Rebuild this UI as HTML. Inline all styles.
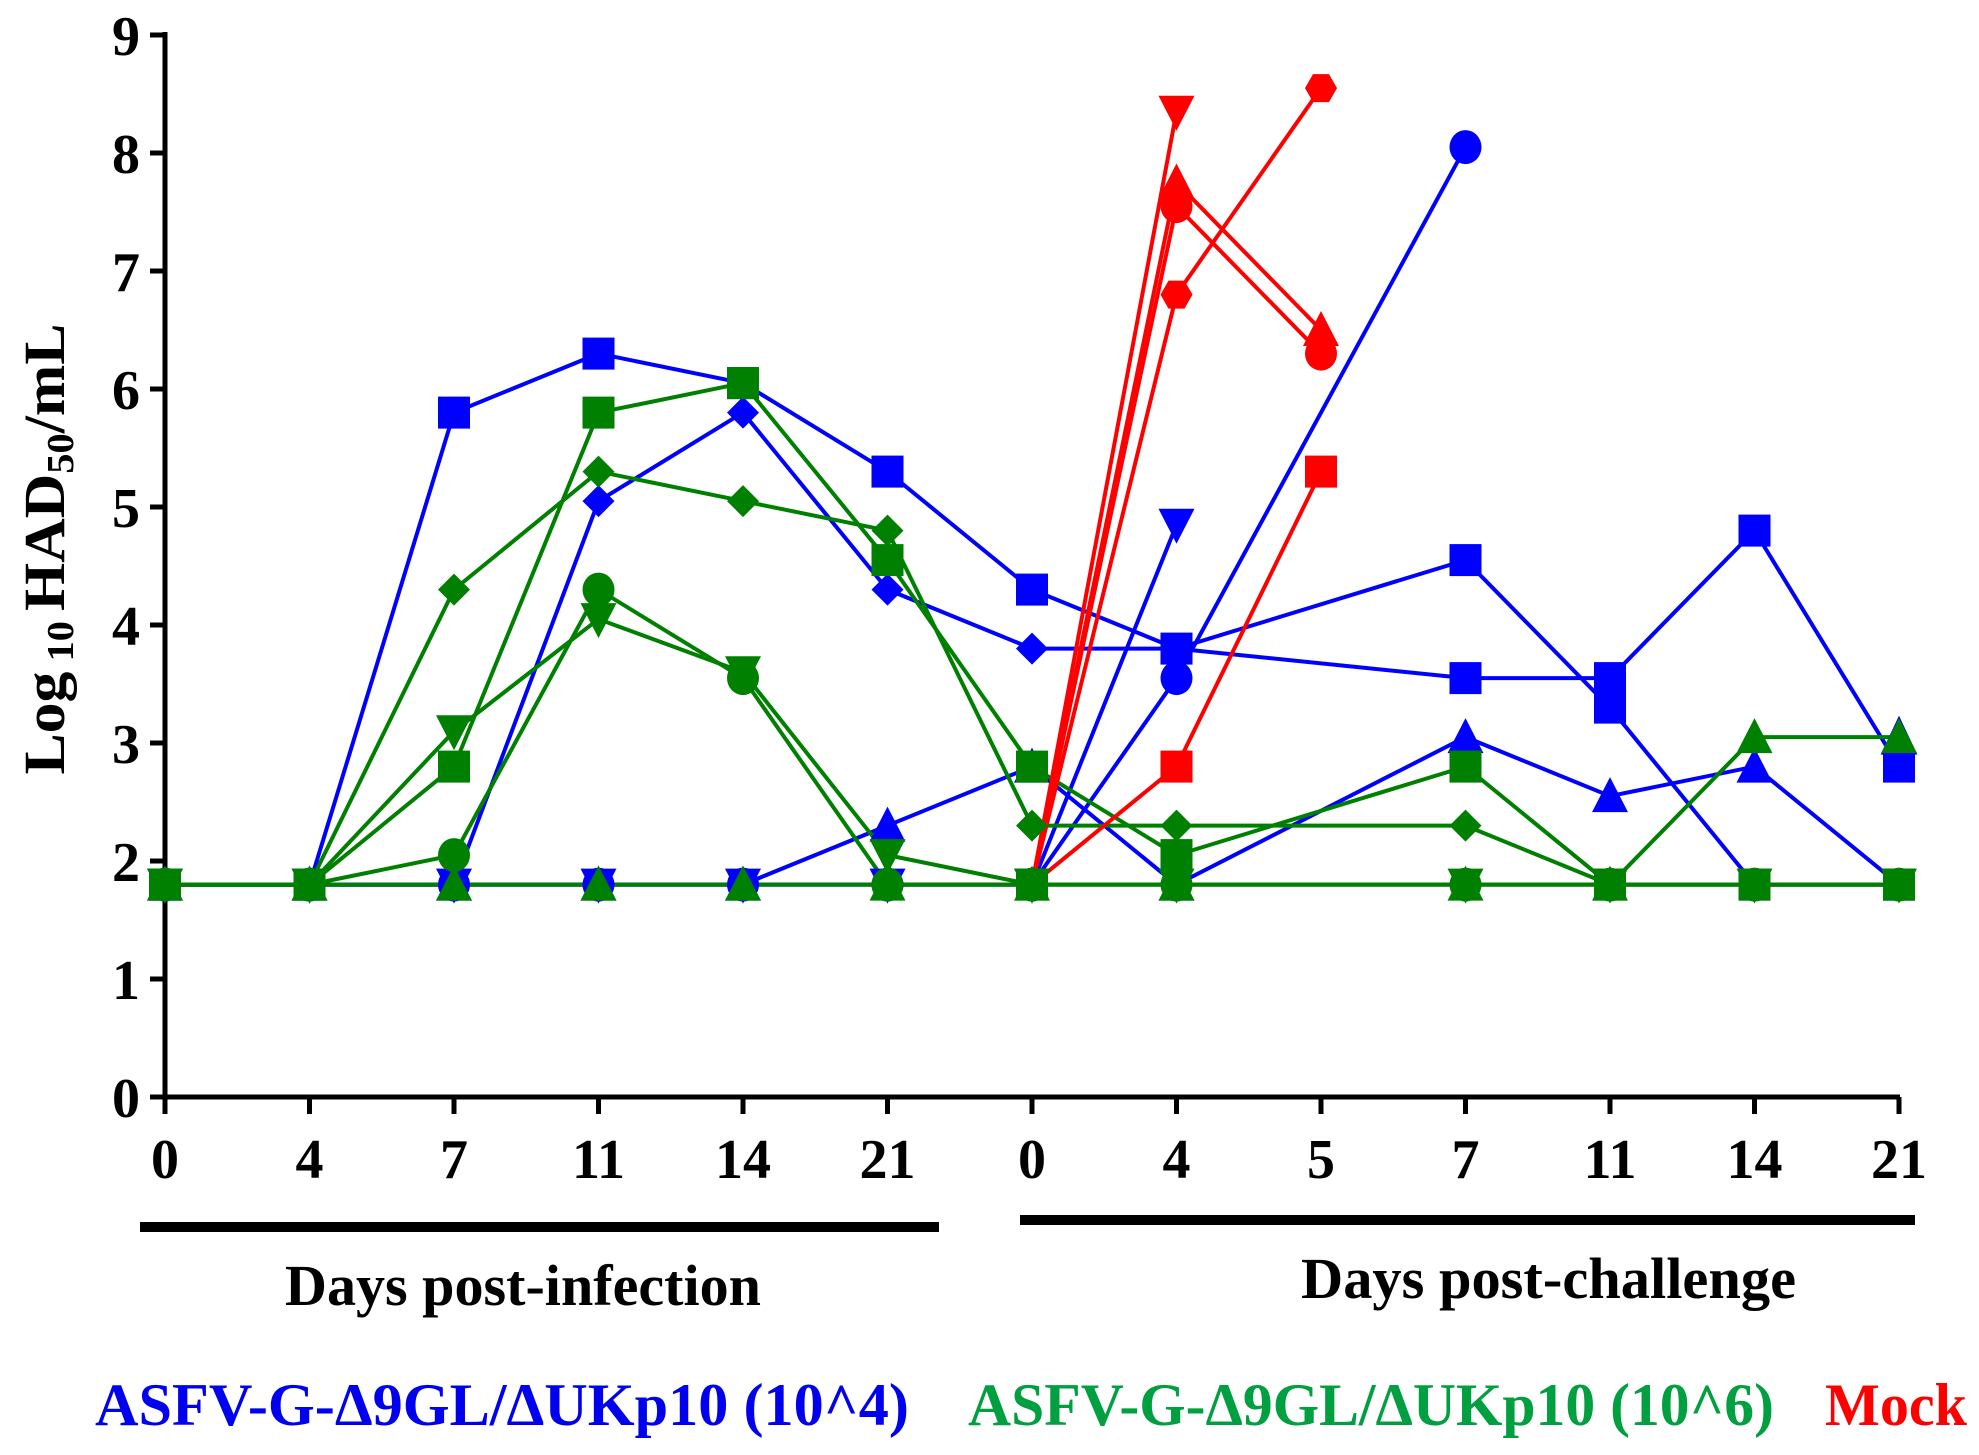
<!DOCTYPE html>
<html><head><meta charset="utf-8"><style>html,body{margin:0;padding:0;background:#fff;}svg{display:block}</style></head>
<body>
<svg id="s" width="1979" height="1455" xmlns="http://www.w3.org/2000/svg" font-family="Liberation Serif, serif" font-weight="bold">
<g id="axes" stroke="#000" stroke-width="5" fill="none">
<line x1="165" y1="32" x2="165" y2="1100"/>
<line x1="162" y1="1097" x2="1900" y2="1097"/>
<line x1="140" y1="1227" x2="939" y2="1227" stroke-width="10"/>
<line x1="1020" y1="1220" x2="1915" y2="1220" stroke-width="10"/>
</g>
<g id="ticks"></g>
<text x="64" y="549" font-size="58" text-anchor="middle" textLength="451" lengthAdjust="spacingAndGlyphs" transform="rotate(-90 64 549)">Log<tspan font-size="38" dy="9"> 10 </tspan><tspan dy="-9">HAD</tspan><tspan font-size="38" dy="9">50</tspan><tspan dy="-9">/mL</tspan></text>
<text x="285" y="1305" font-size="58" textLength="476" lengthAdjust="spacingAndGlyphs">Days post-infection</text>
<text x="1301" y="1298" font-size="58" textLength="495" lengthAdjust="spacingAndGlyphs">Days post-challenge</text>
<text x="95" y="1425" font-size="60" fill="#0000ee" textLength="814" lengthAdjust="spacingAndGlyphs">ASFV-G-Δ9GL/ΔUKp10 (10^4)</text>
<text x="968" y="1425" font-size="60" fill="#00a040" textLength="806" lengthAdjust="spacingAndGlyphs">ASFV-G-Δ9GL/ΔUKp10 (10^6)</text>
<text x="1825" y="1425" font-size="60" fill="#ff0000" textLength="142" lengthAdjust="spacingAndGlyphs">Mock</text>
<g id="data"></g>
</svg>
<script>
var NS="http://www.w3.org/2000/svg";
function X(i){return 165+144.5*i}
function Y(v){return 1097-118*v}
function el(t,a,p){var e=document.createElementNS(NS,t);for(var k in a)e.setAttribute(k,a[k]);(p||document.getElementById('data')).appendChild(e);return e}
var tk=document.getElementById('ticks');
for(var v=0;v<=9;v++){el('line',{x1:150,y1:Y(v),x2:165,y2:Y(v),stroke:'#000','stroke-width':5},tk);
 var t=el('text',{x:140,y:Y(v)+20,'font-size':56,'text-anchor':'end'},tk);t.textContent=v;}
var lab=['0','4','7','11','14','21','0','4','5','7','11','14','21'];
lab.forEach(function(l,i){el('line',{x1:X(i),y1:1097,x2:X(i),y2:1114,stroke:'#000','stroke-width':5},tk);
 var t=el('text',{x:X(i),y:1178,'font-size':56,'text-anchor':'middle'},tk);t.textContent=l;});
function mk(sh,x,y,c){var s=16;
 if(sh=='sq')el('rect',{x:x-s,y:y-s,width:2*s,height:2*s,fill:c});
 else if(sh=='ci')el('ellipse',{cx:x,cy:y,rx:s,ry:s+1,fill:c});
 else if(sh=='di')el('polygon',{points:[x,y-s,x+s,y,x,y+s,x-s,y].join(' '),fill:c});
 else if(sh=='tu')el('polygon',{points:[x,y-s-3,x+s+2,y+s,x-s-2,y+s].join(' '),fill:c});
 else if(sh=='td')el('polygon',{points:[x,y+s+3,x+s+2,y-s,x-s-2,y-s].join(' '),fill:c});
 else if(sh=='hx')el('polygon',{points:[x-16,y,x-8,y-14,x+8,y-14,x+16,y,x+8,y+14,x-8,y+14].join(' '),fill:c});
 else if(sh=='to')el('polygon',{points:[x,y-s-2,x+s,y+s,x-s,y+s].join(' '),fill:'#fff',stroke:c,'stroke-width':3});
}
var B='#0000ff',G='#008000',R='#ff0000';
var S=[
[B,'ci',[1.8,1.8,1.8,1.8,1.8,1.8,1.8,3.55,null,8.05]],
[B,'td',[1.8,1.8,1.8,1.8,1.8,1.8,1.8,4.85]],
[B,'tu',[1.8,1.8,1.8,1.8,1.8,2.3,2.8,1.8,null,3.05,2.55,2.8,1.8]],
[B,'di',[1.8,1.8,1.8,5.05,5.8,4.3,3.8,3.8,null,3.55,3.55,4.8,2.8]],
[B,'sq',[1.8,1.8,5.8,6.3,6.05,5.3,4.3,3.8,null,4.55,3.3,1.8,1.8]],
[G,'tu',[1.8,1.8,1.8,1.8,1.8,1.8,1.8,1.8,null,1.8,1.8,3.05,3.05]],
[G,'td',[1.8,1.8,3.1,4.05,3.6,2.05,1.8,1.8,null,1.8,1.8,1.8,1.8]],
[G,'ci',[1.8,1.8,2.05,4.3,3.55,1.8,1.8,1.8,null,1.8,1.8,1.8,1.8]],
[G,'di',[1.8,1.8,4.3,5.3,5.05,4.8,2.3,2.3,null,2.3,1.8,1.8,1.8]],
[G,'sq',[1.8,1.8,2.8,5.8,6.05,4.55,2.8,2.05,null,2.8,1.8,1.8,1.8]],
[R,'td',[,,,,,,1.8,8.35]],
[R,'tu',[,,,,,,1.8,7.75,6.5]],
[R,'ci',[,,,,,,1.8,7.55,6.3]],
[R,'hx',[,,,,,,1.8,6.8,8.55]],
[R,'sq',[,,,,,,1.8,2.8,5.3]]
];
S.forEach(function(s){var pts=[];s[2].forEach(function(v,i){if(v!=null)pts.push([X(i),Y(v)])});
 el('polyline',{points:pts.map(function(p){return p.join(',')}).join(' '),fill:'none',stroke:s[0],'stroke-width':4});});
S.forEach(function(s){s[2].forEach(function(v,i){if(v==null)return;var sh=s[1];
 if(s[0]==R&&i==6)return;
 if(s[0]==B&&sh=='sq'&&i==8)sh='di';
 if(s[0]==B&&sh=='di'&&i>=8)sh='sq';
 if(s[0]==B&&sh=='tu'&&i==12){mk('to',X(i),Y(3.05),B);mk('sq',X(i),Y(1.8),B);return;}
 mk(sh,X(i),Y(v),s[0]);});});
mk('sq',X(6),Y(1.8),G);
</script>
</body></html>
